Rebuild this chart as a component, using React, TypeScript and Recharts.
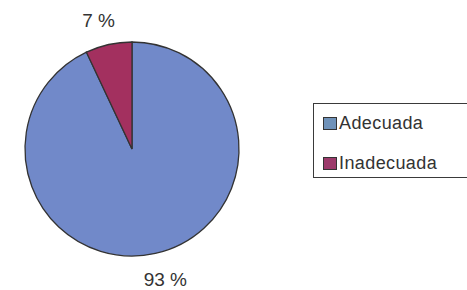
import { PieChart, Pie, Cell, Legend } from "recharts";

const categories = ["Adecuada", "Inadecuada"];
const values = [93, 7];
const pieColors = ["#7189c9", "#a3305f"];
const legendColors = ["#6f92b9", "#9c3a6b"];

const data = categories.map((name, i) => ({ name, value: values[i] }));

const RAD = Math.PI / 180;
const FONT = "'Liberation Sans', Arial, sans-serif";

function renderLabel(props: any) {
  const { cx, cy, midAngle, outerRadius, value } = props;
  const r = outerRadius + 26;
  // labels sit a bit wider than the pure radial position
  const x = cx + 1.15 * r * Math.cos(-midAngle * RAD);
  const y = cy + r * Math.sin(-midAngle * RAD);
  return (
    <text
      x={x}
      y={y + 1}
      textAnchor="middle"
      dominantBaseline="central"
      fill="#333"
      fontSize={19}
      fontFamily={FONT}
    >
      {`${value} %`}
    </text>
  );
}

function LegendBox() {
  return (
    <div
      style={{
        border: "1.5px solid #3a3a3a",
        padding: "4px 0 0 9px",
        fontFamily: FONT,
        fontSize: 18,
        letterSpacing: 0.4,
        color: "#333",
        boxSizing: "border-box",
        height: 75,
      }}
    >
      {categories.map((c, i) => (
        <div
          key={c}
          style={{ display: "flex", alignItems: "center", height: 30, marginBottom: i === 0 ? 10 : 0 }}
        >
          <span
            style={{
              display: "inline-block",
              width: 12,
              height: 11,
              background: legendColors[i],
              border: "1.5px solid #333",
              marginRight: 2,
            }}
          />
          {c}
        </div>
      ))}
    </div>
  );
}

export default function App() {
  return (
    <div style={{ position: "absolute", left: 0, top: 0, background: "#fff" }}>
      <PieChart width={467} height={290} margin={{ top: 0, right: 0, bottom: 0, left: 0 }}>
        <Pie
          data={data}
          dataKey="value"
          nameKey="name"
          cx={132}
          cy={149}
          outerRadius={107}
          startAngle={90}
          endAngle={-270}
          stroke="#333"
          strokeWidth={1.3}
          label={renderLabel}
          labelLine={false}
          isAnimationActive={false}
        >
          {data.map((d, i) => (
            <Cell key={d.name} fill={pieColors[i]} />
          ))}
        </Pie>
        <Legend
          content={<LegendBox />}
          wrapperStyle={{ left: 313, top: 103, width: 160, position: "absolute" }}
        />
      </PieChart>
    </div>
  );
}
